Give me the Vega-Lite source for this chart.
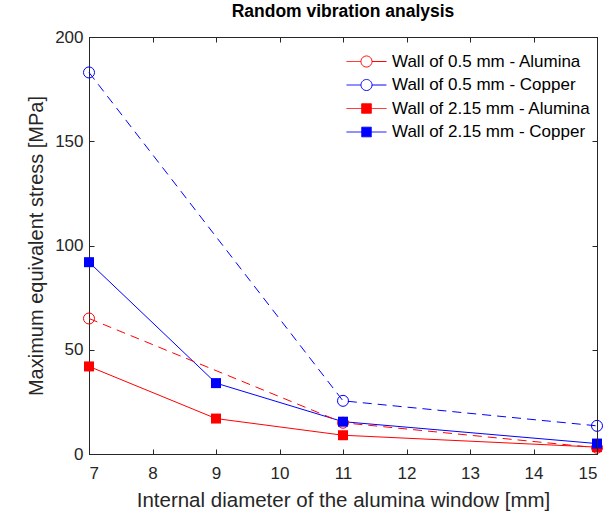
{
  "$schema": "https://vega.github.io/schema/vega-lite/v6.json",
  "width": 508,
  "height": 417,
  "autosize": "none",
  "padding": {"left": 89, "top": 37, "right": 12, "bottom": 60},
  "background": "white",
  "title": {"text": "Random vibration analysis", "font": "Liberation Sans", "fontSize": 17.5, "fontWeight": "bold", "color": "#000000", "offset": 8, "anchor": "middle"},
  "config": {
    "view": {"stroke": "#262626", "strokeWidth": 1},
    "axis": {
      "labelFont": "Liberation Sans", "labelFontSize": 17, "labelColor": "#262626",
      "titleFont": "Liberation Sans", "titleFontSize": 20, "titleFontWeight": "normal", "titleColor": "#262626",
      "domainColor": "#262626", "tickColor": "#262626", "tickSize": -5, "grid": false
    },
    "legend": {"labelFont": "Liberation Sans", "labelFontSize": 17, "labelColor": "#000000"}
  },
  "data": {"values": [
    {"series": "Wall of 0.5 mm - Alumina", "d": 7, "s": 65},
    {"series": "Wall of 0.5 mm - Alumina", "d": 11, "s": 15},
    {"series": "Wall of 0.5 mm - Alumina", "d": 15, "s": 3},
    {"series": "Wall of 0.5 mm - Copper", "d": 7, "s": 183},
    {"series": "Wall of 0.5 mm - Copper", "d": 11, "s": 25.5},
    {"series": "Wall of 0.5 mm - Copper", "d": 15, "s": 13.5},
    {"series": "Wall of 2.15 mm - Alumina", "d": 7, "s": 42},
    {"series": "Wall of 2.15 mm - Alumina", "d": 9, "s": 17},
    {"series": "Wall of 2.15 mm - Alumina", "d": 11, "s": 9},
    {"series": "Wall of 2.15 mm - Alumina", "d": 15, "s": 3.3},
    {"series": "Wall of 2.15 mm - Copper", "d": 7, "s": 92},
    {"series": "Wall of 2.15 mm - Copper", "d": 9, "s": 34},
    {"series": "Wall of 2.15 mm - Copper", "d": 11, "s": 15.5},
    {"series": "Wall of 2.15 mm - Copper", "d": 15, "s": 5}
  ]},
  "layer": [
    {
      "transform": [{"filter": "indexof(datum.series,'2.15 mm')>=0"}],
      "mark": {"type": "line", "strokeWidth": 1},
      "encoding": {
        "x": {"field": "d", "type": "quantitative", "scale": {"domain": [7, 15], "nice": false},
              "axis": {"orient": "bottom", "title": "Internal diameter of the alumina window [mm]", "titleFontSize": 20.5, "values": [7,8,9,10,11,12,13,14,15], "labelPadding": 16.5, "titlePadding": 9}},
        "y": {"field": "s", "type": "quantitative", "scale": {"domain": [0, 200], "nice": false},
              "axis": {"orient": "left", "title": "Maximum equivalent stress [MPa]", "values": [0,50,100,150,200], "labelPadding": 11, "titlePadding": 8}},
        "color": {"field": "series", "type": "nominal",
          "scale": {"domain": ["Wall of 0.5 mm - Alumina", "Wall of 0.5 mm - Copper", "Wall of 2.15 mm - Alumina", "Wall of 2.15 mm - Copper"],
                    "range": ["#ff0000", "#0000ff", "#ff0000", "#0000ff"]},
          "legend": {"title": null, "orient": "none", "legendX": 269, "legendY": 16, "symbolSize": 144, "symbolStrokeWidth": 1, "labelOffset": 17, "rowPadding": 5.5, "labelLimit": 400, "padding": 0,
            "encode": {"symbols": {"update": {
              "shape": {"signal": "indexof(datum.value,'0.5 mm')>=0 ? 'M-3.33,0L-0.92,0M0.92,0L3.33,0M0.92,0A0.92,0.92,0,1,1,-0.92,0A0.92,0.92,0,1,1,0.92,0' : 'M-3.33,0L3.33,0M-0.8,-0.8L0.8,-0.8L0.8,0.8L-0.8,0.8Z'"},
              "fill": {"signal": "scale('color', datum.value)"},
              "fillOpacity": {"signal": "indexof(datum.value,'2.15')>=0 ? 1 : 0"},
              "stroke": {"signal": "scale('color', datum.value)"},
              "strokeDash": {"value": [1, 0]},
              "opacity": {"value": 1}
            }}}}}
      }
    },
    {
      "transform": [{"filter": "indexof(datum.series,'0.5 mm')>=0"}],
      "mark": {"type": "line", "strokeWidth": 1, "strokeDash": [9, 6]},
      "encoding": {
        "x": {"field": "d", "type": "quantitative", "scale": {"domain": [7, 15], "nice": false}, "axis": {"orient": "top", "title": "", "labels": false, "values": [7,8,9,10,11,12,13,14,15], "domain": true, "ticks": true, "zindex": 1}},
        "y": {"field": "s", "type": "quantitative", "scale": {"domain": [0, 200], "nice": false}, "axis": {"orient": "right", "title": "", "labels": false, "values": [0,50,100,150,200], "domain": true, "ticks": true, "zindex": 1}},
        "color": {"field": "series", "type": "nominal", "legend": null}
      }
    },
    {
      "transform": [{"filter": "indexof(datum.series,'0.5 mm')>=0"}],
      "mark": {"type": "point", "shape": "circle", "filled": false, "size": 121, "strokeWidth": 1, "opacity": 1},
      "encoding": {
        "x": {"field": "d", "type": "quantitative", "scale": {"domain": [7, 15], "nice": false}, "axis": null},
        "y": {"field": "s", "type": "quantitative", "scale": {"domain": [0, 200], "nice": false}, "axis": null},
        "color": {"field": "series", "type": "nominal", "legend": null}
      }
    },
    {
      "transform": [{"filter": "indexof(datum.series,'2.15 mm')>=0"}],
      "mark": {"type": "point", "shape": "square", "filled": true, "size": 100, "opacity": 1},
      "encoding": {
        "x": {"field": "d", "type": "quantitative", "scale": {"domain": [7, 15], "nice": false}, "axis": null},
        "y": {"field": "s", "type": "quantitative", "scale": {"domain": [0, 200], "nice": false}, "axis": null},
        "color": {"field": "series", "type": "nominal", "legend": null}
      }
    }
  ],
  "resolve": {"scale": {"x": "independent", "y": "independent"}}
}
